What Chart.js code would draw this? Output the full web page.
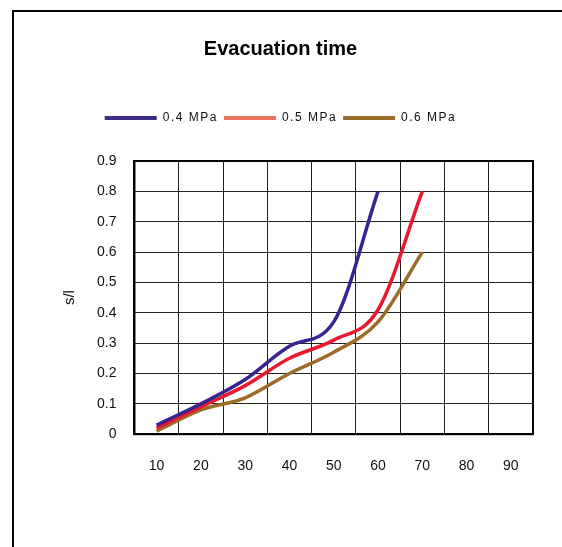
<!DOCTYPE html>
<html lang="en">
<head>
    <meta charset="UTF-8">
    <title>Evacuation time</title>
    <script src="https://cdn.jsdelivr.net/npm/chart.js@4.4.0/dist/chart.umd.min.js"></script>
    <style>
        body {
            margin: 0;
            padding: 0;
            background: #fff;
            overflow: hidden;
        }
        .frame {
            position: absolute;
            left: 12px;
            top: 10px;
            width: 600px;
            height: 600px;
            border-top: 2px solid #000;
            border-left: 2px solid #000;
        }
        #wrap {
            position: absolute;
            left: 0;
            top: 0;
            width: 562px;
            height: 547px;
        }
    </style>
</head>
<body>
<div class="frame"></div>
<div id="wrap">
    <canvas id="evacChart" width="562" height="547"></canvas>
</div>

<script>
    // data
    const pressures = ['10', '20', '30', '40', '50', '60', '70', '80', '90'];
    const seriesNames = ['0.4 MPa', '0.5 MPa', '0.6 MPa'];
    const mpa04 = [0.03, 0.10, 0.18, 0.29, 0.37, 0.80];
    const mpa05 = [0.02, 0.09, 0.16, 0.25, 0.31, 0.41, 0.80];
    const mpa06 = [0.01, 0.08, 0.12, 0.20, 0.27, 0.37, 0.60];
    const lineColors = ['#3a2390', '#e8192f', '#9a6c28'];
    const legendColors = ['#3f2a8a', '#e8705e', '#9a6f2c'];

    const font = "'Liberation Sans', Arial, sans-serif";

    // thick frame around the plot area
    const plotBorder = {
        id: 'plotBorder',
        afterDraw(chart) {
            const a = chart.chartArea;
            const c = chart.ctx;
            c.save();
            c.strokeStyle = '#000';
            c.lineWidth = 2;
            c.strokeRect(a.left, a.top, a.right - a.left, a.bottom - a.top);
            c.restore();
        }
    };

    // spaced-out legend text and a bigger gap under the legend
    const legendTweak = {
        id: 'legendTweak',
        afterInit(chart) {
            const L = chart.legend;
            if (!L) return;
            const fit = L.fit.bind(L);
            const draw = L.draw.bind(L);
            L.fit = function () {
                chart.ctx.letterSpacing = '1.5px';
                fit();
                chart.ctx.letterSpacing = '0px';
                this.height += 27;
            };
            L.draw = function () {
                chart.ctx.letterSpacing = '1.5px';
                draw();
                chart.ctx.letterSpacing = '0px';
            };
        }
    };

    const ctx = document.getElementById('evacChart').getContext('2d');
    new Chart(ctx, {
        type: 'line',
        data: {
            labels: pressures,
            datasets: [mpa04, mpa05, mpa06].map((vals, i) => ({
                label: seriesNames[i],
                data: vals,
                borderColor: lineColors[i],
                backgroundColor: lineColors[i],
                borderWidth: 3.5,
                pointRadius: 0,
                tension: 0.4,
                cubicInterpolationMode: 'monotone',
                fill: false
            }))
        },
        options: {
            responsive: false,
            animation: false,
            layout: {
                padding: { left: 28, right: 29, top: 0, bottom: 48 }
            },
            plugins: {
                title: {
                    display: true,
                    text: 'Evacuation time',
                    color: '#000',
                    font: { family: font, size: 20, weight: 'bold' },
                    padding: { top: 37, bottom: 45 }
                },
                legend: {
                    position: 'top',
                    labels: {
                        color: '#111',
                        font: { family: font, size: 12 },
                        boxWidth: 52,
                        boxHeight: 4,
                        padding: 6,
                        generateLabels(chart) {
                            return chart.data.datasets.map((ds, i) => ({
                                text: ds.label,
                                fillStyle: legendColors[i],
                                strokeStyle: legendColors[i],
                                lineWidth: 0,
                                fontColor: '#111',
                                datasetIndex: i
                            }));
                        }
                    }
                },
                tooltip: { enabled: false }
            },
            scales: {
                x: {
                    offset: true,
                    grid: {
                        offset: true,
                        color: '#222',
                        lineWidth: 1,
                        drawTicks: false
                    },
                    border: { color: '#000', width: 2 },
                    ticks: {
                        color: '#111',
                        font: { family: font, size: 14 },
                        padding: 24,
                        maxRotation: 0
                    }
                },
                y: {
                    min: 0,
                    max: 0.9,
                    ticks: {
                        stepSize: 0.1,
                        color: '#111',
                        font: { family: font, size: 14 },
                        padding: 18
                    },
                    grid: {
                        color: '#222',
                        lineWidth: 1,
                        drawTicks: false
                    },
                    border: { color: '#000', width: 2 },
                    title: {
                        display: true,
                        text: 's/l',
                        color: '#111',
                        font: { family: font, size: 15 },
                        padding: { top: 33, bottom: 0 }
                    }
                }
            }
        },
        plugins: [plotBorder, legendTweak]
    });
</script>
</body>
</html>
